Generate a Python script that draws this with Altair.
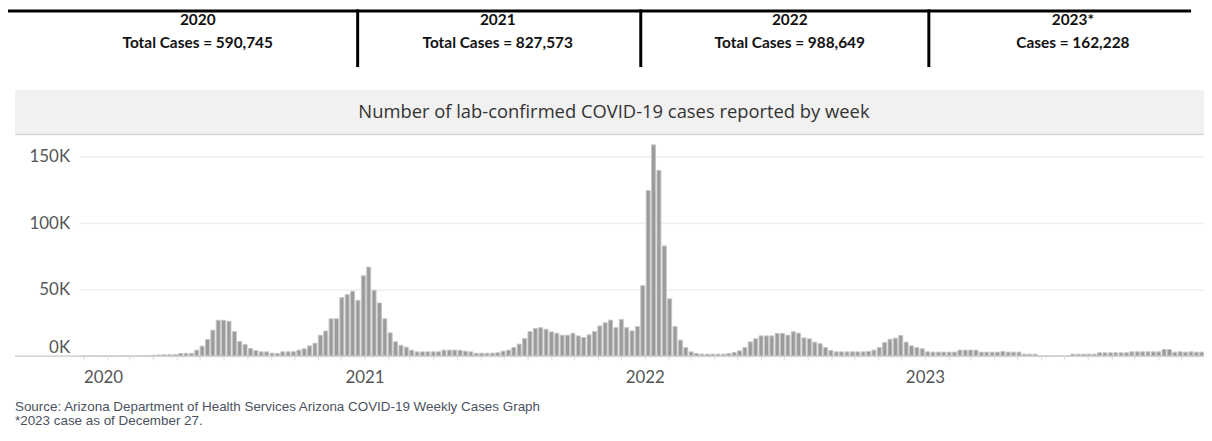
import altair as alt
import pandas as pd

# ---- data (weekly lab-confirmed cases, weeks starting Sunday 2019-12-29) ----
weekly_cases = [
    0, 0, 0, 0, 0, 0, 0, 0, 0, 0, 0,
    100, 500, 600, 800, 1000, 1100, 1200, 2000, 2100, 2100,
    4500, 7500, 12500, 19500, 27000, 27000, 26200, 18500, 11000, 8700,
    5700, 4200, 3200, 3200, 2200, 2000, 3200, 3200, 3300, 4500,
    5500, 7700, 9700, 15700, 18900, 28100, 28100, 44000, 46300, 48800,
    42000, 60500, 67000, 49500, 40000, 28100, 17500, 10800, 8200, 6700,
    4500, 3200, 3200, 3200, 3200, 3300, 4500, 4500, 4500, 4400,
    3700, 3200, 2200, 2200, 2200, 2200, 2500, 3700, 4500, 6500,
    9000, 13200, 18400, 20700, 21400, 20200, 18200, 17200, 15700, 15700,
    17200, 15200, 14000, 16000, 18400, 22700, 25100, 27100, 21400, 27600,
    21400, 19000, 22200, 53000, 124700, 159000, 139700, 82900, 43100, 22200,
    12000, 6500, 3200, 2000, 1500, 1500, 1500, 1500, 1500, 2000,
    2700, 4000, 6500, 10700, 13000, 15200, 15200, 15200, 17100, 17100,
    15800, 18300, 17300, 13700, 13000, 10500, 9300, 6500, 4200, 3200,
    3200, 3200, 3200, 3200, 3200, 3500, 4500, 6500, 10200, 12700,
    13500, 15500, 10500, 7700, 6500, 5500, 3200, 3000, 3000, 3000,
    3000, 3000, 4500, 4500, 4500, 4500, 3000, 3000, 3000, 3000,
    3500, 3000, 3000, 3000, 1500, 1500, 1500, 0, 0, 0,
    0, 0, 0, 1500, 1500, 1500, 1500, 1500, 2500, 2500,
    2500, 2500, 2500, 2500, 3200, 3200, 3200, 3200, 3200, 3200,
    5000, 5000, 3000, 3200, 3000, 3200, 3000, 3000,
]
week_start = pd.date_range("2019-12-29", periods=len(weekly_cases), freq="7D").strftime("%Y-%m-%d").tolist()

y_tick_values = [0, 50000, 100000, 150000]
header_years = ["2020", "2021", "2022", "2023*"]
header_totals = ["Total Cases = 590,745", "Total Cases = 827,573", "Total Cases = 988,649", "Cases = 162,228"]
chart_title = "Number of lab-confirmed COVID-19 cases reported by week"
footer_lines = [
    "Source:  Arizona Department of Health Services Arizona COVID-19 Weekly Cases Graph",
    "*2023 case as of December 27.",
]

# ---- layout (pixels relative to the plot area) ----
W, H = 1133, 223
header_x = [120, 422, 716, 1001]
divider_x = [281, 566, 856]

df = pd.DataFrame({"week": week_start, "cases": weekly_cases})
one = pd.DataFrame({"k": [0]})

x_scale = alt.Scale(
    type="utc",
    domain=[alt.DateTime(year=2020, month=1, date=1, utc=True),
            alt.DateTime(year=2023, month=12, date=24, utc=True)],
)
month_ticks = [alt.DateTime(year=y, month=m, date=1, utc=True) for y in range(2020, 2024) for m in range(1, 13)]

AX_FONT = "Lato"

band = alt.Chart(one).mark_rect(color="#f1f1f1").encode(
    x=alt.value(-64), x2=alt.value(W), y=alt.value(-45), y2=alt.value(0)
)
band_line = alt.Chart(one).mark_rule(color="#d6d6d6", strokeWidth=1.5).encode(
    x=alt.value(-64), x2=alt.value(W), y=alt.value(0)
)
title = alt.Chart(one).mark_text(
    text=chart_title, font="Open Sans", fontSize=18.5, color="#333333", align="center", baseline="middle"
).encode(x=alt.value(539), y=alt.value(-23))

bars = alt.Chart(df).mark_bar(
    size=4, color="#9b9b9b", stroke="#c6c6c6", strokeWidth=1, xOffset=2.7, clip=True
).encode(
    x=alt.X(
        "week:T", scale=x_scale,
        axis=alt.Axis(
            values=month_ticks,
            labelExpr="utcFormat(datum.value, '%m') == '01' ? utcFormat(datum.value, '%Y') : ''",
            labelAlign={"condition": {"test": "utcFormat(datum.value, '%Y-%m') == '2020-01'", "value": "left"},
                        "value": "center"},
            title=None, grid=False, domain=False, tickColor="#dcdcdc", tickSize=4,
            labelFont=AX_FONT, labelFontSize=17, labelColor="#555555",
            labelPadding=10, labelOverlap=False,
        ),
    ),
    y=alt.Y(
        "cases:Q", scale=alt.Scale(domain=[0, 166700], nice=False, zero=True),
        axis=alt.Axis(
            values=y_tick_values, labelExpr="(datum.value / 1000) + 'K'", title=None,
            domain=False, ticks=False, gridColor="#efefef", gridWidth=1.5,
            labelFont=AX_FONT, labelFontSize=17, labelColor="#555555", labelPadding=9,
            labelFlush=True, labelFlushOffset=0,
        ),
    ),
)

baseline = alt.Chart(one).mark_rule(color="#c8c8c8", strokeWidth=1.2).encode(
    x=alt.value(-64), x2=alt.value(W), y=alt.value(H)
)

layers = [band, band_line, title, bars, baseline]

# header
layers.append(alt.Chart(one).mark_rule(color="#000000", strokeWidth=3).encode(
    x=alt.value(-74), x2=alt.value(1120), y=alt.value(-124.5)))
for dx in divider_x:
    layers.append(alt.Chart(one).mark_rule(color="#000000", strokeWidth=3).encode(
        x=alt.value(dx), y=alt.value(-126), y2=alt.value(-68)))
for hx, yr, tot in zip(header_x, header_years, header_totals):
    layers.append(alt.Chart(one).mark_text(
        text=yr, font="Lato", fontWeight="bold", fontSize=15.5, color="#111111", align="center", baseline="middle"
    ).encode(x=alt.value(hx), y=alt.value(-115)))
    layers.append(alt.Chart(one).mark_text(
        text=tot, font="Lato", fontWeight="bold", fontSize=15.5, color="#111111", align="center", baseline="middle"
    ).encode(x=alt.value(hx), y=alt.value(-92)))

# footer
for i, line in enumerate(footer_lines):
    layers.append(alt.Chart(one).mark_text(
        text=line, font="Liberation Sans", fontSize=13.5, color="#4a5260", align="left", baseline="middle"
    ).encode(x=alt.value(-64), y=alt.value(274 + 14 * i)))

chart = alt.layer(*layers).properties(
    width=W, height=H,
    autosize=alt.AutoSizeParams(type="none"),
    padding={"left": 71, "top": 126, "right": 0, "bottom": 84},
).configure_view(stroke=None)

chart.save("out.html", embed_options={"renderer": "svg", "actions": False})
